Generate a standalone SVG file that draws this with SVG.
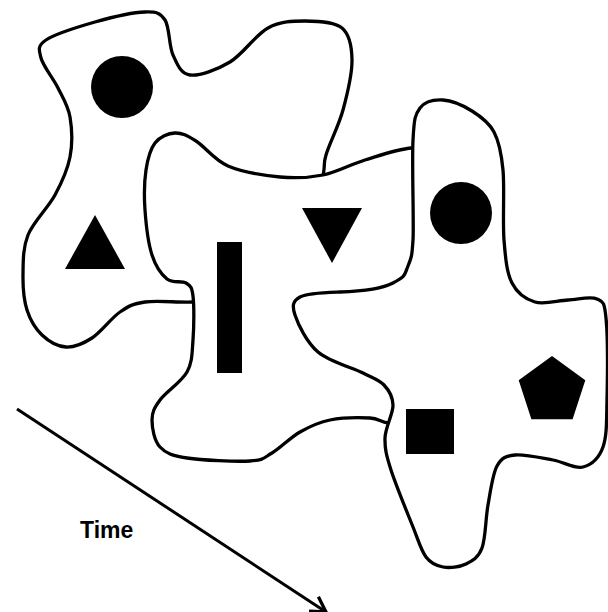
<svg xmlns="http://www.w3.org/2000/svg" width="608" height="612" viewBox="0 0 608 612">
<style>
.blob{fill:#fff;stroke:#000;stroke-width:3.3;stroke-linejoin:round}
.shape{fill:#000;stroke:none}
.arrow{fill:none;stroke:#000;stroke-width:3}
.label{font-family:"Liberation Sans",Arial,Helvetica,sans-serif;font-weight:bold;font-size:23px;fill:#000}
</style>
<defs>
<marker id="head" markerUnits="userSpaceOnUse" markerWidth="20" markerHeight="20" refX="17" refY="10" orient="auto" overflow="visible">
<path d="M2.3,1.5 L17,10 L2.3,18.5" fill="none" stroke="#000" stroke-width="3.3"/>
</marker>
</defs>
<rect width="608" height="612" fill="#fff"/>
<g id="blob-back">
<path class="blob" d="M46,40 C55,34 78.5,26.7 95,22 S133.3,12.3 145,12 S160.3,12.8 165,20 S168.8,45.8 173,55 S180.5,73.8 190,75 S217,69.8 230,62 S255.5,34.8 268,28 S292.7,21 305,21 S334.2,21.5 342,28 S351.8,46.3 352,60 S347.3,94.2 343,110 S329.5,143.3 326,155 S326.3,162.5 322,180 S315.3,240.3 300,260 S247.8,291 230,298 S207.2,301.3 193,302 S157.2,300.3 145,302 S128.8,306 120,312 S101,332.2 92,338 S74.3,347.5 66,347 S48.5,341.2 42,335 S30.2,320 27,310 S22.8,287.5 23,275 S22.7,248.3 28,235 S48,208 55,195 S67.5,170 70,157 S72,128.5 70,117 S62.8,97.8 58,88 S43,66 41,58 S37,46 46,40 Z"/>
<circle class="shape" cx="122" cy="87" r="31"/>
<polygon class="shape" points="95,215 125,269 65,269"/>
</g>
<g id="blob-middle">
<path class="blob" d="M175,133 C181.8,132.7 187.2,135.5 196,141 S214,160 228,166 S264.2,175.5 280,177 S308.8,177.8 323,175 S350.2,164.5 365,160 S396.2,149.3 412,148 S450.3,133.3 460,152 S475,215.3 470,260 S443.3,392.8 430,420 S400,423.3 390,423 S380,418.5 370,418 S341.7,417.7 330,420 S309.7,426.5 300,432 S280.3,448.2 272,453 S264.2,460.2 250,461 S202,460.3 187,458 S165.8,453.3 160,447 S152,427.8 152,420 S154.2,408 160,400 S181.5,382 187,372 S192,352.7 193,340 S194.2,305.5 193,296 S190.3,285.8 186,283 S172.7,283.7 167,279 S155.7,266.5 152,255 S146,224.2 145,210 S144.3,181.2 146,170 S150.2,149.2 155,143 S168.2,133.3 175,133 Z"/>
<rect class="shape" x="217" y="242" width="25" height="131"/>
<polygon class="shape" points="302,208 362,208 332,263"/>
</g>
<g id="blob-front">
<path class="blob" d="M443,100 C451.7,100.5 463.5,105.7 472,111 S488.8,122.2 494,132 S501.3,152 503,170 S502.5,221.2 504,240 S506.8,272.7 512,283 S525.7,299.2 535,302 S557.7,300.5 568,300 S590.7,296 597,299 S604.3,301.2 606,318 S607.5,378.5 607,400 S607,435.8 603,447 S591.3,464.8 583,467 S564.3,462 553,460 S524.3,454 515,455 S501.5,457.7 497,466 S490.5,491.3 488,505 S485.7,538.2 482,548 S472.5,560.8 466,564 S449.7,568.2 443,567 S431,563.7 426,557 S418.8,541.5 413,527 S395.7,484.8 391,470 S384.7,448.8 385,438 S393.2,413.8 393,405 S389,390.3 384,385 S374,378.5 363,373 S329.3,361.7 318,352 S298,324.2 295,315 S292.5,301.2 300,297 S325.3,292.5 340,292 S380,290 393,283 S404,276 408,266 S412,255 413,240 S411.8,162 413,140 S415,114.7 420,108 S434.3,99.5 443,100 Z"/>
<circle class="shape" cx="461" cy="213" r="31"/>
<polygon class="shape" points="552,356 585.3,380.2 572.6,419.3 531.4,419.3 518.7,380.2"/>
<rect class="shape" x="406" y="409" width="48" height="45"/>
</g>
<g id="connectors">
<path class="arrow" d="M17,409 L326,612" marker-end="url(#head)"/>
</g>
<g id="time-label">
<text class="label" x="80" y="538">Time</text>
</g>
</svg>
